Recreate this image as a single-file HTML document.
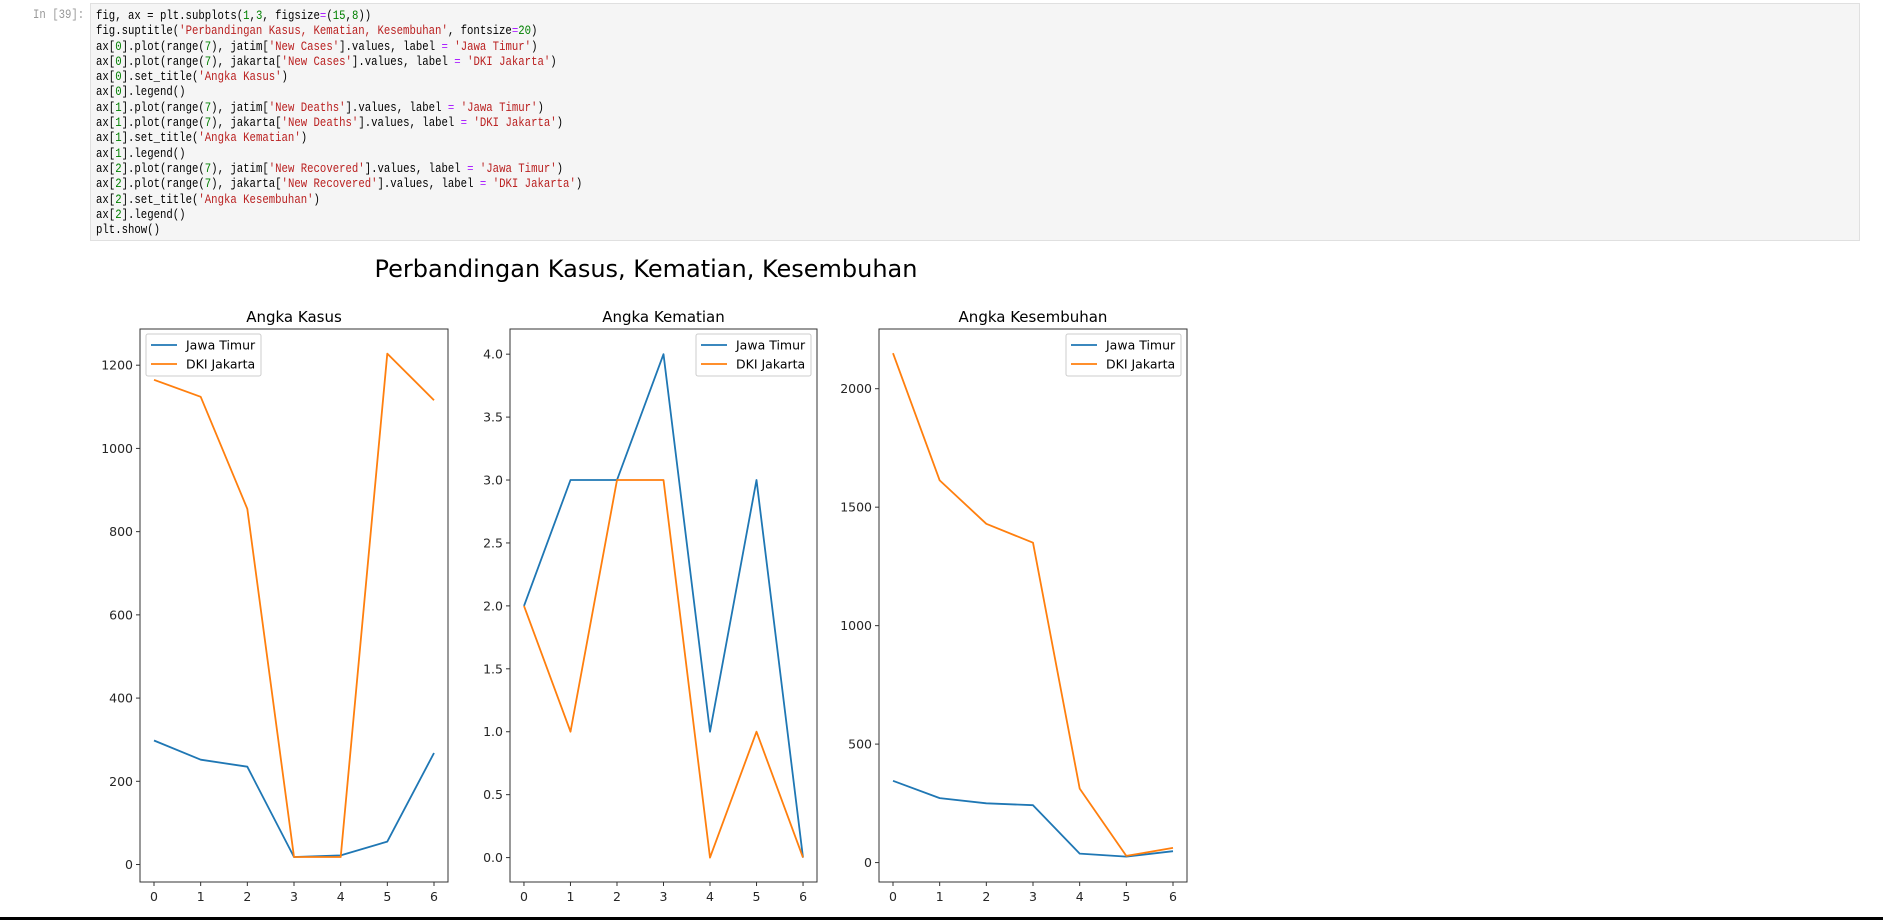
<!DOCTYPE html>
<html><head><meta charset="utf-8">
<style>
body{margin:0;width:1883px;height:920px;background:#fff;overflow:hidden;position:relative;font-family:"DejaVu Sans","Liberation Sans",sans-serif}
#prompt{position:absolute;left:33px;top:7px;font:13px/15.3px "Liberation Mono",monospace;color:#999;transform:scaleX(0.82);transform-origin:0 0}
#cell{position:absolute;left:90px;top:3px;width:1770px;height:238px;background:#f5f5f5;border:1px solid #e0e0e0;box-sizing:border-box}
#code{position:absolute;left:5px;top:4px;margin:0;font:13px/15.3px "Liberation Mono",monospace;color:#000;transform:scaleX(0.82);transform-origin:0 0;white-space:pre}
.s{color:#ba2121}.n{color:#008000}.o{color:#aa22ff}
#bottomline{position:absolute;left:0;top:917px;width:1883px;height:3px;background:#000}
</style></head><body>
<div id="prompt">In [39]:</div>
<div id="cell"><pre id="code">fig, ax = plt.subplots(<span class="n">1</span>,<span class="n">3</span>, figsize<span class="o">=</span>(<span class="n">15</span>,<span class="n">8</span>))
fig.suptitle(<span class="s">'Perbandingan Kasus, Kematian, Kesembuhan'</span>, fontsize<span class="o">=</span><span class="n">20</span>)
ax[<span class="n">0</span>].plot(range(<span class="n">7</span>), jatim[<span class="s">'New Cases'</span>].values, label <span class="o">=</span> <span class="s">'Jawa Timur'</span>)
ax[<span class="n">0</span>].plot(range(<span class="n">7</span>), jakarta[<span class="s">'New Cases'</span>].values, label <span class="o">=</span> <span class="s">'DKI Jakarta'</span>)
ax[<span class="n">0</span>].set_title(<span class="s">'Angka Kasus'</span>)
ax[<span class="n">0</span>].legend()
ax[<span class="n">1</span>].plot(range(<span class="n">7</span>), jatim[<span class="s">'New Deaths'</span>].values, label <span class="o">=</span> <span class="s">'Jawa Timur'</span>)
ax[<span class="n">1</span>].plot(range(<span class="n">7</span>), jakarta[<span class="s">'New Deaths'</span>].values, label <span class="o">=</span> <span class="s">'DKI Jakarta'</span>)
ax[<span class="n">1</span>].set_title(<span class="s">'Angka Kematian'</span>)
ax[<span class="n">1</span>].legend()
ax[<span class="n">2</span>].plot(range(<span class="n">7</span>), jatim[<span class="s">'New Recovered'</span>].values, label <span class="o">=</span> <span class="s">'Jawa Timur'</span>)
ax[<span class="n">2</span>].plot(range(<span class="n">7</span>), jakarta[<span class="s">'New Recovered'</span>].values, label <span class="o">=</span> <span class="s">'DKI Jakarta'</span>)
ax[<span class="n">2</span>].set_title(<span class="s">'Angka Kesembuhan'</span>)
ax[<span class="n">2</span>].legend()
plt.show()</pre></div>
<svg id="fig" width="1883" height="920" style="position:absolute;left:0;top:0">
<text x="646" y="277" font-size="24" text-anchor="middle" fill="#000" font-family="DejaVu Sans, sans-serif">Perbandingan Kasus, Kematian, Kesembuhan</text>
</svg>
<div id="bottomline"></div>
<script>
const categories=[0,1,2,3,4,5,6];
const casesJatim=[298,252,235,18,22,55,268];
const casesJakarta=[1165,1124,855,18,18,1228,1116];
const deathsJatim=[2,3,3,4,1,3,0];
const deathsJakarta=[2,1,3,3,0,1,0];
const recJatim=[345,272,250,242,38,25,48];
const recJakarta=[2150,1613,1430,1350,312,28,62];
const casesTicks=[0,200,400,600,800,1000,1200];
const deathsTicks=[0,0.5,1.0,1.5,2.0,2.5,3.0,3.5,4.0];
const recTicks=[0,500,1000,1500,2000];
const seriesLabels=['Jawa Timur','DKI Jakarta'];

const NS='http://www.w3.org/2000/svg';
const svg=document.getElementById('fig');
function mk(tag,attrs,parent){const e=document.createElementNS(NS,tag);for(const k in attrs)e.setAttribute(k,attrs[k]);(parent||svg).appendChild(e);return e;}
const panels=[
 {id:'cases',title:'Angka Kasus',L:140,R:448,ymin:-42,ymax:1287,ticks:casesTicks,fmt:v=>String(v),a:casesJatim,b:casesJakarta,legendLeft:true},
 {id:'deaths',title:'Angka Kematian',L:510,R:817,ymin:-0.194,ymax:4.2,ticks:deathsTicks,fmt:v=>v.toFixed(1),a:deathsJatim,b:deathsJakarta,legendLeft:false},
 {id:'recovered',title:'Angka Kesembuhan',L:879,R:1187,ymin:-82,ymax:2252,ticks:recTicks,fmt:v=>String(v),a:recJatim,b:recJakarta,legendLeft:false}
];
const T=329,B=882;
panels.forEach(p=>{
 const g=mk('g',{});
 
 
 const xs=v=>p.L+(v+0.3)/6.6*(p.R-p.L);
 const ys=v=>B-(v-p.ymin)/(p.ymax-p.ymin)*(B-T);
 const t=mk('text',{x:(p.L+p.R)/2,y:T-7,'font-size':15,'text-anchor':'middle',fill:'#000'},g);
 t.textContent=p.title;
 
 
 p.ticks.forEach(v=>{
  const y=ys(v);
  mk('line',{x1:p.L-4,x2:p.L,y1:y,y2:y,stroke:'#333','stroke-width':1},g);
  const l=mk('text',{x:p.L-7,y:y+4.5,'font-size':12.5,'text-anchor':'end',fill:'#262626'},g);
  l.textContent=p.fmt(v);
  
  
 });
 categories.forEach(c=>{
  const x=xs(c);
  mk('line',{x1:x,x2:x,y1:B,y2:B+4,stroke:'#333','stroke-width':1},g);
  const l=mk('text',{x:x,y:B+19,'font-size':12.5,'text-anchor':'middle',fill:'#262626'},g);
  l.textContent=String(c);
  
  
 });
 [[p.a,'#1f77b4','jawa-timur'],[p.b,'#ff7f0e','dki-jakarta']].forEach(([arr,col,nm])=>{
  const pts=arr.map((v,i)=>xs(categories[i]).toFixed(1)+','+ys(v).toFixed(1)).join(' ');
  const pl=mk('polyline',{points:pts,fill:'none',stroke:col,'stroke-width':1.8,'stroke-linejoin':'round'},g);
  
  
 });
 const fr=mk('rect',{x:p.L,y:T,width:p.R-p.L,height:B-T,fill:'none',stroke:'#333','stroke-width':1},g);
 
 
 const lx=p.legendLeft?p.L+6:p.R-6-115;
 const lg=mk('g',{},g);
 
 
 mk('rect',{x:lx,y:334,width:115,height:42,rx:2,fill:'#fff','fill-opacity':0.8,stroke:'#ccc','stroke-width':1},lg);
 [['#1f77b4',seriesLabels[0],345],['#ff7f0e',seriesLabels[1],364]].forEach(([col,txt,y])=>{
  mk('line',{x1:lx+5,x2:lx+31,y1:y,y2:y,stroke:col,'stroke-width':1.8},lg);
  const tt=mk('text',{x:lx+40,y:y+4.5,'font-size':12.5,fill:'#000'},lg);
  tt.textContent=txt;
  
  
 });
});
</script>
</body></html>
